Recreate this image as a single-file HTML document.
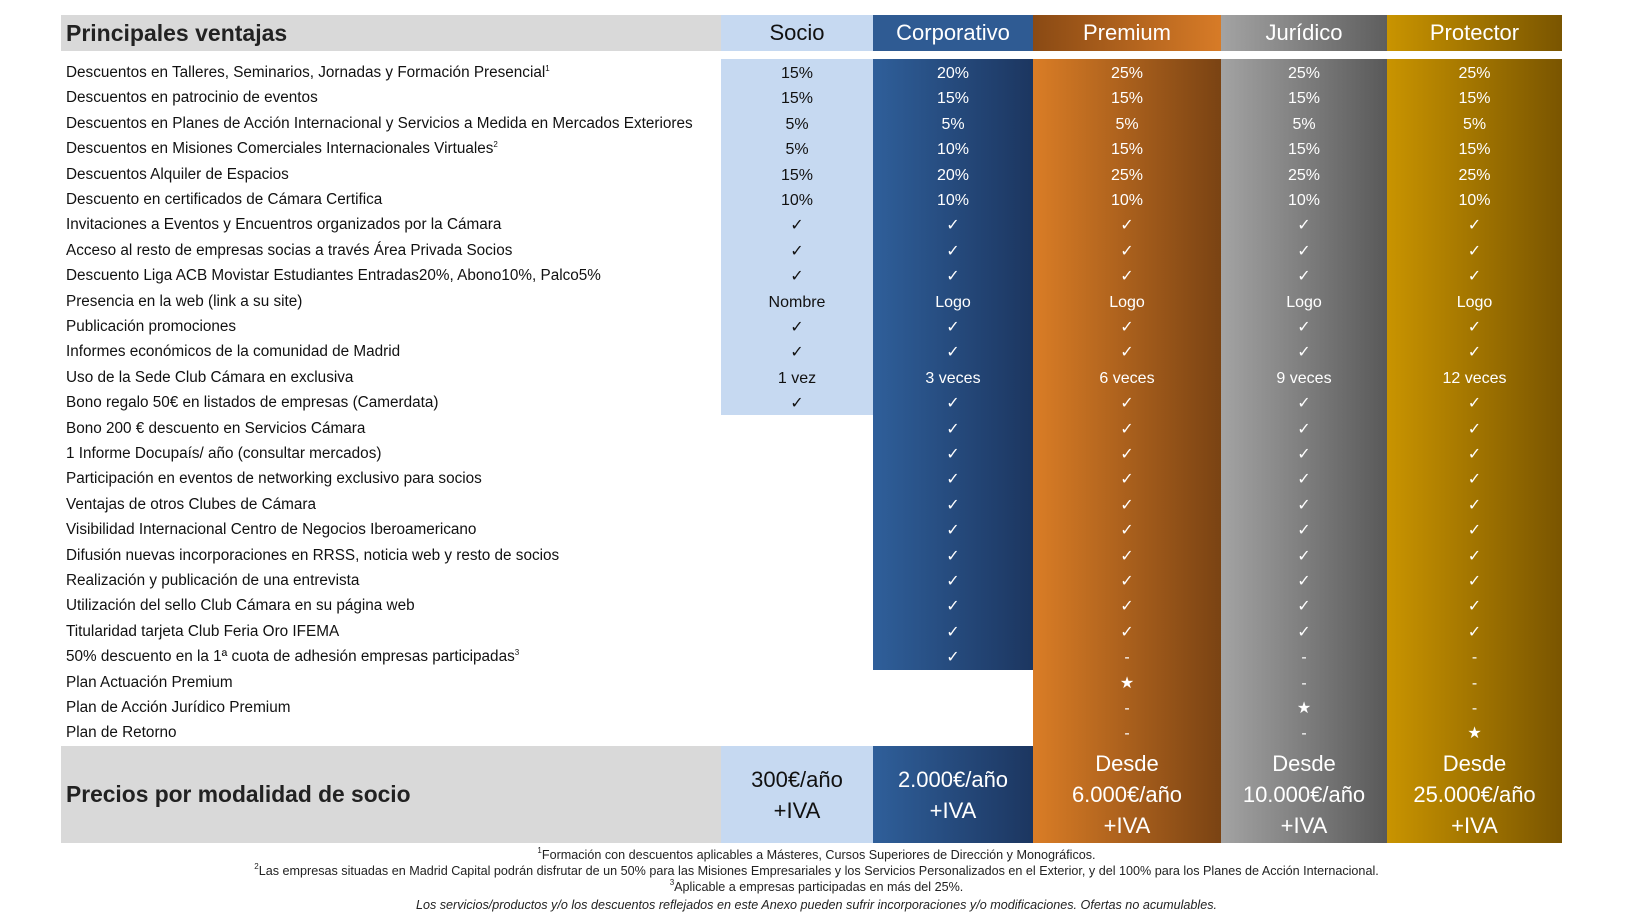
<!DOCTYPE html><html><head><meta charset="utf-8"><style>
body{margin:0;width:1633px;height:917px;background:#fff;font-family:"Liberation Sans","DejaVu Sans",sans-serif;position:relative;overflow:hidden}
.a{position:absolute}
.hd{position:absolute;top:15px;height:36px;line-height:36px;text-align:center;font-size:22px;color:#fff}
.col{position:absolute;top:59px}
.r{height:25.4px;line-height:25.4px;text-align:center;font-size:16px;color:#fff}
.lab{position:absolute;left:66px;font-size:15.3px;color:#111;line-height:25.4px;white-space:nowrap}
.pr{position:absolute;top:746px;height:97px;display:flex;align-items:center;justify-content:center;text-align:center;font-size:22px;line-height:31px;color:#fff}
.fn{position:absolute;left:0;width:1633px;text-align:center;font-size:12.6px;color:#222;line-height:15px}
sup{font-size:8px;line-height:0;vertical-align:6px}
</style></head><body>
<div class="a" style="left:61px;top:15px;width:660px;height:36px;background:#d9d9d9"></div>
<div class="a" style="left:66px;top:15px;line-height:36px;font-size:23px;font-weight:bold;color:#222">Principales ventajas</div>
<div class="hd" style="left:721px;width:152px;background:#c6d9f1;color:#111">Socio</div>
<div class="hd" style="left:873px;width:160px;background:#2f5b93">Corporativo</div>
<div class="hd" style="left:1033px;width:188px;background:linear-gradient(90deg,#8a4a14,#d77b27)">Premium</div>
<div class="hd" style="left:1221px;width:166px;background:linear-gradient(90deg,#a3a3a3,#5e5e5e)">Jurídico</div>
<div class="hd" style="left:1387px;width:175px;background:linear-gradient(90deg,#c99400,#7a5500)">Protector</div>

<div class="col" style="left:721px;width:152px;height:356px;background:#c6d9f1"></div>
<div class="col" style="left:873px;width:160px;height:611px;background:linear-gradient(90deg,#2f5f9a,#1c3660)"></div>
<div class="col" style="left:1033px;width:188px;height:687px;background:linear-gradient(90deg,#da7d26,#7a4313)"></div>
<div class="col" style="left:1221px;width:166px;height:687px;background:linear-gradient(90deg,#a3a3a3,#595959)"></div>
<div class="col" style="left:1387px;width:175px;height:687px;background:linear-gradient(90deg,#c99400,#7a5500)"></div>

<div id="labs"></div>
<div id="cells"></div>

<div class="a" style="left:61px;top:746px;width:660px;height:97px;background:#d9d9d9"></div>
<div class="a" style="left:66px;top:746px;line-height:97px;font-size:22.8px;font-weight:bold;color:#222">Precios por modalidad de socio</div>
<div class="pr" style="left:721px;width:152px;background:#c6d9f1;color:#111">300€/año<br>+IVA</div>
<div class="pr" style="left:873px;width:160px;background:linear-gradient(90deg,#2f5f9a,#1c3660)">2.000€/año<br>+IVA</div>
<div class="pr" style="left:1033px;width:188px;background:linear-gradient(90deg,#da7d26,#7a4313)">Desde<br>6.000€/año<br>+IVA</div>
<div class="pr" style="left:1221px;width:166px;background:linear-gradient(90deg,#a3a3a3,#595959)">Desde<br>10.000€/año<br>+IVA</div>
<div class="pr" style="left:1387px;width:175px;background:linear-gradient(90deg,#c99400,#7a5500)">Desde<br>25.000€/año<br>+IVA</div>

<div class="fn" style="top:848px"><sup>1</sup>Formación con descuentos aplicables a Másteres, Cursos Superiores de Dirección y Monográficos.</div>
<div class="fn" style="top:864px"><sup>2</sup>Las empresas situadas en Madrid Capital podrán disfrutar de un 50% para las Misiones Empresariales y los Servicios Personalizados en el Exterior, y del 100% para los Planes de Acción Internacional.</div>
<div class="fn" style="top:880px"><sup>3</sup>Aplicable a empresas participadas en más del 25%.</div>
<div class="fn" style="top:898px;font-style:italic">Los servicios/productos y/o los descuentos reflejados en este Anexo pueden sufrir incorporaciones y/o modificaciones. Ofertas no acumulables.</div>

<script>
var L=["Descuentos en Talleres, Seminarios, Jornadas y Formación Presencial<sup>1</sup>","Descuentos en patrocinio de eventos","Descuentos en Planes de Acción Internacional y Servicios a Medida en Mercados Exteriores","Descuentos en Misiones Comerciales Internacionales Virtuales<sup>2</sup>","Descuentos Alquiler de Espacios","Descuento en certificados de Cámara Certifica","Invitaciones a Eventos y Encuentros organizados por la Cámara","Acceso al resto de empresas socias a través Área Privada Socios","Descuento Liga ACB Movistar Estudiantes Entradas20%, Abono10%, Palco5%","Presencia en la web (link a su site)","Publicación promociones","Informes económicos de la comunidad de Madrid","Uso de la Sede Club Cámara en exclusiva","Bono regalo 50€ en listados de empresas (Camerdata)","Bono 200 € descuento en Servicios Cámara","1 Informe Docupaís/ año (consultar mercados)","Participación en eventos de networking exclusivo para socios","Ventajas de otros Clubes de Cámara","Visibilidad Internacional Centro de Negocios Iberoamericano","Difusión nuevas incorporaciones en RRSS, noticia web y resto de socios","Realización y publicación de una entrevista","Utilización del sello Club Cámara en su página web","Titularidad tarjeta Club Feria Oro IFEMA","50% descuento en la 1ª cuota de adhesión empresas participadas<sup>3</sup>","Plan Actuación Premium","Plan de Acción Jurídico Premium","Plan de Retorno"];
var h="";L.forEach(function(t,i){h+='<div class="lab" style="top:'+(60+i*25.4)+'px">'+t+'</div>'});
document.getElementById('labs').innerHTML=h;
var C="✓",cols=[
[721,152,"#111",["15%","15%","5%","5%","15%","10%",C,C,C,"Nombre",C,C,"1 vez",C]],
[873,160,"#fff",["20%","15%","5%","10%","20%","10%",C,C,C,"Logo",C,C,"3 veces",C,C,C,C,C,C,C,C,C,C,C]],
[1033,188,"#fff",["25%","15%","5%","15%","25%","10%",C,C,C,"Logo",C,C,"6 veces",C,C,C,C,C,C,C,C,C,C,"-","★","-","-"]],
[1221,166,"#fff",["25%","15%","5%","15%","25%","10%",C,C,C,"Logo",C,C,"9 veces",C,C,C,C,C,C,C,C,C,C,"-","-","★","-"]],
[1387,175,"#fff",["25%","15%","5%","15%","25%","10%",C,C,C,"Logo",C,C,"12 veces",C,C,C,C,C,C,C,C,C,C,"-","-","-","★"]]];
h="";cols.forEach(function(c){c[3].forEach(function(v,i){h+='<div class="a r" style="left:'+c[0]+'px;width:'+c[1]+'px;top:'+(61+i*25.4)+'px;color:'+c[2]+'">'+v+'</div>'})});
document.getElementById('cells').innerHTML=h;
</script>
</body></html>
